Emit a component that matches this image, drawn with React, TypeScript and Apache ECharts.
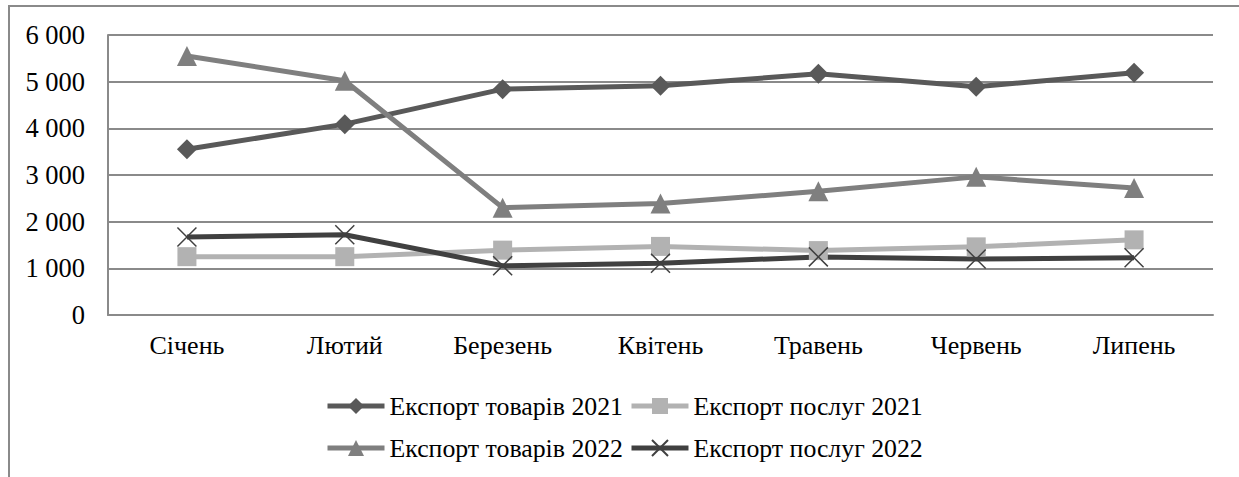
import React, { useEffect, useRef } from "react";
import * as echarts from "echarts";

const categories = ["Січень", "Лютий", "Березень", "Квітень", "Травень", "Червень", "Липень"];
const goods2021 = [3550, 4090, 4840, 4910, 5170, 4890, 5190];
const services2021 = [1250, 1250, 1390, 1470, 1380, 1460, 1610];
const goods2022 = [5550, 5020, 2300, 2390, 2650, 2960, 2720];
const services2022 = [1670, 1720, 1055, 1110, 1245, 1200, 1225];
const seriesNames = ["Експорт товарів 2021", "Експорт послуг 2021", "Експорт товарів 2022", "Експорт послуг 2022"];
const yTicks = [0, 1000, 2000, 3000, 4000, 5000, 6000];

const FONT = "Liberation Serif";

export default function App() {
  const ref = useRef<HTMLDivElement>(null);
  useEffect(() => {
    if (!ref.current) return;
    const chart = echarts.init(ref.current, undefined, { renderer: "svg" });
    const mk = (name: string, data: number[], color: string, symbol: string, size: number, extra: any = {}) => ({
      name,
      type: "line",
      data,
      symbol,
      symbolSize: size,
      lineStyle: { color, width: 5 },
      itemStyle: { color, ...(extra.itemStyle || {}) },
      emphasis: { disabled: true },
    });
    const legendCommon = {
      orient: "horizontal",
      itemWidth: 57,
      itemHeight: 20,
      itemGap: 6,
      lineStyle: { width: 5 },
      textStyle: { fontFamily: FONT, fontSize: 25.8, color: "#000" },
      selectedMode: false,
    };
    chart.setOption({
      animation: false,
      graphic: [
        {
          type: "rect",
          shape: { x: 9, y: 6, width: 1240, height: 480 },
          style: { fill: "none", stroke: "#8a8a8a", lineWidth: 2 },
          silent: true,
        },
      ],
      legend: [
        { ...legendCommon, left: 320, top: 388, data: [seriesNames[0], seriesNames[1]] },
        { ...legendCommon, left: 320, top: 430, data: [seriesNames[2], seriesNames[3]] },
      ],
      grid: { left: 108, right: 26, top: 35, bottom: 162, outerBoundsMode: "none", containLabel: false },
      xAxis: {
        type: "category",
        data: categories,
        boundaryGap: true,
        axisLine: { lineStyle: { color: "#8a8a8a", width: 2 } },
        axisTick: { show: false },
        axisLabel: { fontFamily: FONT, fontSize: 26, color: "#000", margin: 17 },
      },
      yAxis: {
        type: "value",
        min: yTicks[0],
        max: yTicks[yTicks.length - 1],
        interval: 1000,
        axisLine: { show: true, lineStyle: { color: "#8a8a8a", width: 2 } },
        axisTick: { show: false },
        splitLine: { lineStyle: { color: "#8a8a8a", width: 2 } },
        axisLabel: {
          fontFamily: FONT,
          fontSize: 26.5,
          color: "#000",
          margin: 23,
          formatter: (v: number) => String(v).replace(/\B(?=(\d{3})+(?!\d))/g, " "),
        },
      },
      series: [
        mk(seriesNames[0], goods2021, "#595959", "diamond", 20),
        mk(seriesNames[1], services2021, "#b2b2b2", "rect", 19),
        mk(seriesNames[2], goods2022, "#7f7f7f", "triangle", 20),
        mk(seriesNames[3], services2022, "#404040", "path://M0,0L20,20M20,0L0,20", 19, {
          itemStyle: { borderColor: "#404040", borderWidth: 1.5 },
        }),
      ],
    });
    return () => chart.dispose();
  }, []);
  return (
    <div
      ref={ref}
      style={{ position: "absolute", left: 0, top: 0, width: 1239, height: 477, background: "#fff" }}
    />
  );
}
